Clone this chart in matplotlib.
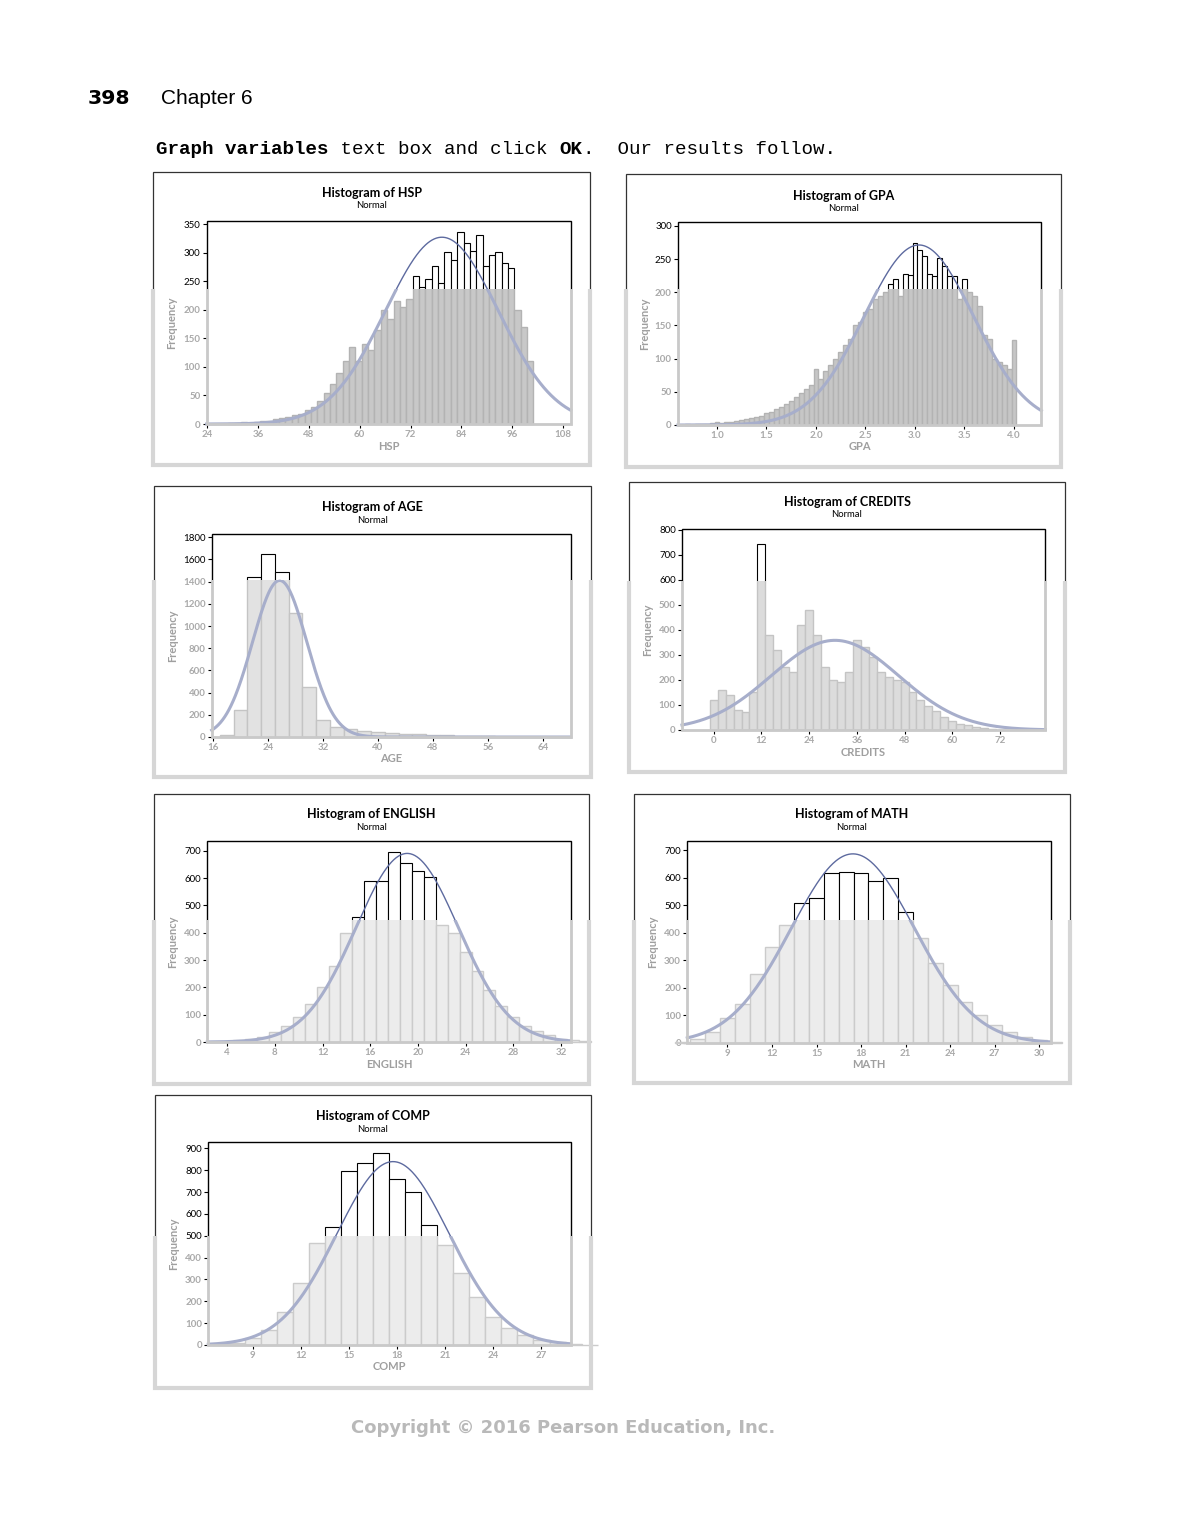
import numpy as np
import matplotlib
matplotlib.use("Agg")
import matplotlib.pyplot as plt
from matplotlib.patches import Rectangle
from matplotlib.transforms import Bbox, TransformedBbox

plt.rcParams['font.family'] = ['Lato', 'DejaVu Sans']

# ------------------------------------------------------------------ data
hsp_mids = np.arange(29.75, 101, 1.5)
hsp_counts = [2, 1, 3, 2, 4, 5, 6, 8, 10, 12, 15, 18, 24, 30, 40, 55, 70, 90,
              110, 135, 110, 140, 130, 165, 200, 185, 215, 205, 220,
              260, 240, 255, 278, 248, 302, 287, 336, 318, 304, 331, 277, 297, 302, 283, 274,
              200, 170, 110]
hsp_fit = (79.4, 13.3)
hsp_xticks = [24, 36, 48, 60, 72, 84, 96, 108]
hsp_yticks = [0, 50, 100, 150, 200, 250, 300, 350]

gpa_mids = np.round(np.arange(0.70, 4.001, 0.05), 2)
gpa_counts = [1, 0, 2, 1, 2, 3, 5, 3, 4, 5, 6, 7, 9, 10, 12, 14,
              18, 20, 24, 27, 32, 36, 42, 48, 55, 60,
              85, 70, 82, 90, 100, 110, 120, 130, 150, 155, 170, 175, 190, 195, 200,
              212, 220, 195, 227, 226, 275, 264, 255, 227, 225, 252, 240, 224, 224, 190, 220,
              200, 195, 180, 135, 130, 100, 95, 90, 85, 128]
gpa_fit = (3.04, 0.55)
gpa_xticks = [1.0, 1.5, 2.0, 2.5, 3.0, 3.5, 4.0]
gpa_yticks = [0, 50, 100, 150, 200, 250, 300]

age_mids = np.arange(18, 61, 2)
age_counts = [20, 243, 1440, 1650, 1490, 1120, 450, 150, 90, 70, 55, 45, 38, 30,
              25, 20, 15, 12, 8, 6, 4, 3]
age_fit = (25.7, 3.95)
age_xticks = [16, 24, 32, 40, 48, 56, 64]
age_yticks = [0, 200, 400, 600, 800, 1000, 1200, 1400, 1600, 1800]

credits_mids = np.arange(0, 71, 2)
credits_counts = [120, 160, 140, 80, 70, 150, 744, 380, 320, 250, 230, 420, 480, 380,
                  250, 200, 190, 230, 360, 330, 290, 230, 210, 200, 190, 150, 120, 95,
                  75, 50, 35, 25, 18, 10, 6, 3]
credits_fit = (30.5, 16.0)
credits_xticks = [0, 12, 24, 36, 48, 60, 72]
credits_yticks = [0, 100, 200, 300, 400, 500, 600, 700, 800]

english_mids = np.arange(5, 35)
english_counts = [8, 12, 20, 35, 60, 90, 140, 200, 280, 400,
                  457, 589, 589, 697, 657, 627, 606,
                  430, 400, 330, 260, 190, 130, 90, 60, 40, 25, 12, 6, 3]
english_fit = (19.1, 4.3)
english_xticks = [4, 8, 12, 16, 20, 24, 28, 32]
english_yticks = [0, 100, 200, 300, 400, 500, 600, 700]

math_mids = np.arange(6, 32)
math_counts = [5, 15, 40, 90, 140, 250, 350, 430,
               510, 526, 619, 623, 619, 589, 599, 475,
               380, 290, 210, 150, 100, 65, 40, 22, 12, 5]
math_fit = (17.45, 4.15)
math_xticks = [9, 12, 15, 18, 21, 24, 27, 30]
math_yticks = [0, 100, 200, 300, 400, 500, 600, 700]

comp_mids = np.arange(7, 31)
comp_counts = [3, 10, 30, 70, 150, 283, 465,
               538, 795, 831, 877, 758, 699, 548,
               460, 330, 220, 130, 80, 45, 25, 12, 5, 2]
comp_fit = (17.75, 3.5)
comp_xticks = [9, 12, 15, 18, 21, 24, 27]
comp_yticks = [0, 100, 200, 300, 400, 500, 600, 700, 800, 900]

# ------------------------------------------------------------------ layout
W, H = 1180, 1527
fig = plt.figure(figsize=(W / 100, H / 100), dpi=100)
fig.patch.set_facecolor('white')


def fx(px):
    return px / W


def fy(py):
    return 1 - py / H


def region(top_py, bot_py):
    return TransformedBbox(Bbox([[0, fy(bot_py)], [1, fy(top_py)]]), fig.transFigure)


panels = [
    dict(var='HSP', mids=hsp_mids, counts=hsp_counts, bw=1.5, fit=hsp_fit,
         xticks=hsp_xticks, yticks=hsp_yticks, xfmt='{:g}',
         outer=(153, 172, 590, 465), plot=(206.7, 220.7, 570.7, 424),
         xlim=(23.93, 109.78), ymax=356.6, cut=289, ty=193, sy=206,
         fill='#c8c8c8', edge='#b3b3b3'),
    dict(var='GPA', mids=gpa_mids, counts=gpa_counts, bw=0.05, fit=gpa_fit,
         xticks=gpa_xticks, yticks=gpa_yticks, xfmt='{:.1f}',
         outer=(626, 174, 1061, 467), plot=(678, 222.3, 1041.3, 425),
         xlim=(0.606, 4.276), ymax=305.5, cut=289, ty=196, sy=208.3,
         fill='#c6c6c6', edge='#b3b3b3'),
    dict(var='AGE', mids=age_mids, counts=age_counts, bw=2, fit=age_fit,
         xticks=age_xticks, yticks=age_yticks, xfmt='{:g}',
         outer=(154, 486, 590.7, 777), plot=(211.7, 534, 570.7, 737),
         xlim=(15.81, 68.03), ymax=1829, cut=580, ty=507.3, sy=520,
         fill='#e2e2e2', edge='#c4c4c4'),
    dict(var='CREDITS', mids=credits_mids, counts=credits_counts, bw=2, fit=credits_fit,
         xticks=credits_xticks, yticks=credits_yticks, xfmt='{:g}',
         outer=(629, 482, 1065, 772), plot=(682, 528.7, 1045.3, 730),
         xlim=(-7.97, 83.4), ymax=805, cut=581, ty=502, sy=514.7,
         fill='#dcdcdc', edge='#c4c4c4'),
    dict(var='ENGLISH', mids=english_mids, counts=english_counts, bw=1, fit=english_fit,
         xticks=english_xticks, yticks=english_yticks, xfmt='{:g}',
         outer=(154, 794, 589.3, 1084), plot=(207.3, 841, 570.7, 1042),
         xlim=(2.33, 32.82), ymax=736, cut=920, ty=814, sy=827.3,
         fill='#ececec', edge='#cbcbcb'),
    dict(var='MATH', mids=math_mids, counts=math_counts, bw=1, fit=math_fit,
         xticks=math_xticks, yticks=math_yticks, xfmt='{:g}',
         outer=(634, 794, 1070, 1083), plot=(687.3, 841, 1050.7, 1043),
         xlim=(6.30, 30.77), ymax=734.5, cut=920, ty=814, sy=827,
         fill='#ececec', edge='#cbcbcb'),
    dict(var='COMP', mids=comp_mids, counts=comp_counts, bw=1, fit=comp_fit,
         xticks=comp_xticks, yticks=comp_yticks, xfmt='{:g}',
         outer=(155, 1095, 590.7, 1388), plot=(208.3, 1142.3, 570.7, 1345),
         xlim=(6.24, 28.82), ymax=928, cut=1236, ty=1116, sy=1129,
         fill='#ececec', edge='#cbcbcb'),
]

CURVE = '#5d6a9f'
CURVE_BLUR = '#a7aecb'
GRAY_TXT = '#a9a9a9'


def frame(x0, y0, x1, y1, clip, color, lw):
    r = Rectangle((fx(x0), fy(y1)), fx(x1) - fx(x0), fy(y0) - fy(y1),
                  transform=fig.transFigure, fill=False, ec=color, lw=lw)
    fig.add_artist(r)
    r.set_clip_box(clip)
    r.set_clip_on(True)


for p in panels:
    ox0, oy0, ox1, oy1 = p['outer']
    px0, py0, px1, py1 = p['plot']
    cut = p['cut']
    top = region(0, cut)
    bot = region(cut, H)

    # outer frame (sharp above the cut, soft below)
    frame(ox0, oy0, ox1, oy1, top, '#333333', 0.9)
    frame(ox0, oy0, ox1, oy1, bot, '#d6d6d6', 3.0)

    ax = fig.add_axes([fx(px0), fy(py1), fx(px1) - fx(px0), fy(py0) - fy(py1)])
    ax.set_xlim(*p['xlim'])
    ax.set_ylim(0, p['ymax'])
    for s in ax.spines.values():
        s.set_visible(False)

    # histogram bars
    sharp = ax.bar(p['mids'], p['counts'], width=p['bw'], facecolor='white',
                   edgecolor='black', linewidth=0.8, zorder=2)
    for b in sharp:
        b.set_clip_box(top)
    soft = ax.bar(p['mids'], p['counts'], width=p['bw'], facecolor=p['fill'],
                  edgecolor=p['edge'], linewidth=1.0, zorder=2)
    for b in soft:
        b.set_clip_box(bot)

    # fitted normal curve
    m, sd = p['fit']
    n = sum(p['counts'])
    xs = np.linspace(p['xlim'][0], p['xlim'][1], 500)
    ys = n * p['bw'] * np.exp(-0.5 * ((xs - m) / sd) ** 2) / (sd * np.sqrt(2 * np.pi))
    l1, = ax.plot(xs, ys, color=CURVE, lw=1.0, zorder=3)
    l1.set_clip_box(top)
    l2, = ax.plot(xs, ys, color=CURVE_BLUR, lw=2.2, zorder=3)
    l2.set_clip_box(bot)

    # plot-area frame
    frame(px0, py0, px1, py1, top, 'black', 1.0)
    frame(px0, py0, px1, py1, bot, '#c9c9c9', 2.0)

    # ticks
    ax.set_yticks(p['yticks'])
    ax.set_yticklabels([str(v) for v in p['yticks']])
    ax.set_xticks(p['xticks'])
    ax.set_xticklabels([p['xfmt'].format(v) for v in p['xticks']])
    ax.tick_params(axis='both', direction='out', length=3, width=0.8, pad=1.5,
                   labelsize=7)
    for t, v in zip(ax.yaxis.get_major_ticks(), p['yticks']):
        tpy = py1 - v / p['ymax'] * (py1 - py0)
        c = 'black' if tpy <= cut + 0.5 else GRAY_TXT
        t.label1.set_color(c)
        t.tick1line.set_color(c)
        if c != 'black':
            t.label1.set_fontweight('bold')
    for t in ax.xaxis.get_major_ticks():
        t.label1.set_color(GRAY_TXT)
        t.label1.set_fontweight('bold')
        t.tick1line.set_color('#bdbdbd')

    # titles
    cx = (ox0 + ox1) / 2
    fig.text(fx(cx), fy(p['ty']), 'Histogram of ' + p['var'], ha='center', va='center',
             fontsize=9, fontweight='bold', color='black')
    fig.text(fx(cx), fy(p['sy']), 'Normal', ha='center', va='center', fontsize=6.8,
             color='black')
    # axis labels (inside the blurred band)
    fig.text(fx(ox0 + 19), fy((py0 + py1) / 2), 'Frequency', rotation=90, ha='center',
             va='center', fontsize=8, fontweight='bold', color='#9f9f9f')
    fig.text(fx((px0 + px1) / 2), fy(py1 + 22), p['var'], ha='center', va='center',
             fontsize=8, fontweight='bold', color='#9f9f9f')

# ------------------------------------------------------------------ page text
fig.text(fx(88), fy(99), '398', ha='left', va='center', fontsize=14.7,
         fontweight='bold', family='DejaVu Sans')
fig.text(fx(161), fy(99), 'Chapter 6', ha='left', va='center', fontsize=15,
         family='Liberation Sans')

char_w = 11.53
segments = [('Graph variables', 'bold', 0), (' text box and click ', 'normal', 15),
            ('OK', 'bold', 35), ('.  Our results follow.', 'normal', 37)]
for s, wgt, i in segments:
    fig.text(fx(156 + i * char_w), fy(149), s, ha='left', va='center', fontsize=13.8,
             fontweight=wgt, family='Liberation Mono')

fig.text(fx(563), fy(1428), 'Copyright \u00a9 2016 Pearson Education, Inc.', ha='center',
         va='center', fontsize=13, color='#b9b9b9', family='DejaVu Sans', fontweight='bold')

fig.savefig('out.png', dpi=100, facecolor='white')
